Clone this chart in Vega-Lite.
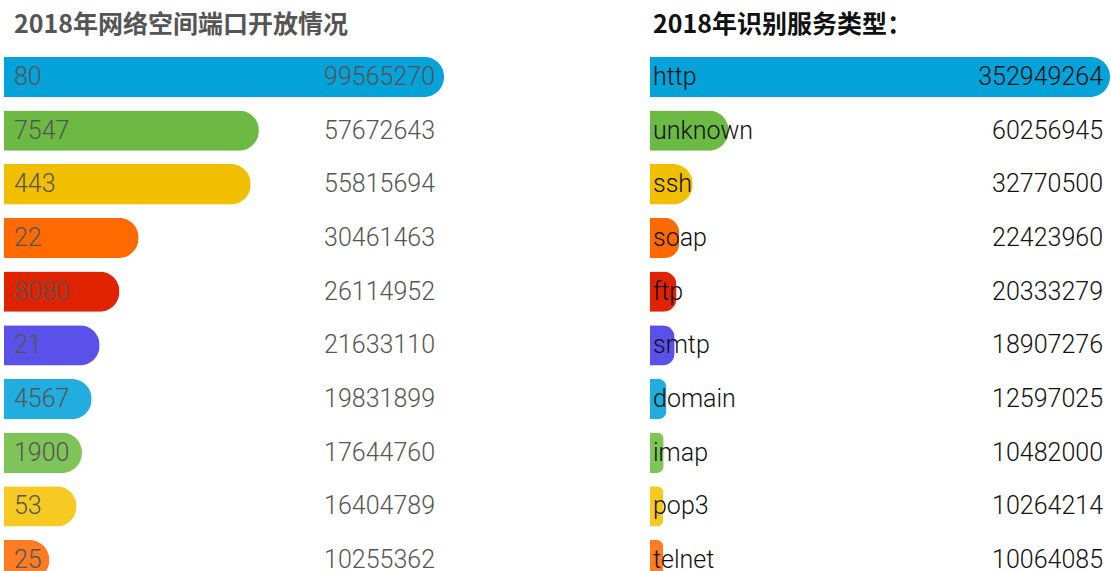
{
  "$schema": "https://vega.github.io/schema/vega-lite/v6.json",
  "padding": {"left": 4, "right": 1, "top": 13, "bottom": 0},
  "background": "white",
  "spacing": 206,
  "config": {"view": {"stroke": null}, "font": "Roboto"},
  "resolve": {"scale": {"color": "shared"}},
  "hconcat": [
    {
      "title": {"text": "2018年网络空间端口开放情况", "anchor": "start", "dx": 10, "fontSize": 25, "fontWeight": "bold", "color": "#555555", "font": "Noto Sans CJK SC", "offset": 12},
      "width": 440,
      "height": 537,
      "data": {"values": [
        {"label": "80", "value": 99565270, "rank": 1},
        {"label": "7547", "value": 57672643, "rank": 2},
        {"label": "443", "value": 55815694, "rank": 3},
        {"label": "22", "value": 30461463, "rank": 4},
        {"label": "8080", "value": 26114952, "rank": 5},
        {"label": "21", "value": 21633110, "rank": 6},
        {"label": "4567", "value": 19831899, "rank": 7},
        {"label": "1900", "value": 17644760, "rank": 8},
        {"label": "53", "value": 16404789, "rank": 9},
        {"label": "25", "value": 10255362, "rank": 10}
      ]},
      "transform": [{"joinaggregate": [{"op": "max", "field": "value", "as": "vmax"}]}],
      "encoding": {
        "y": {"field": "label", "type": "nominal", "sort": {"field": "rank", "op": "min"}, "axis": null, "scale": {"paddingInner": 0.25, "paddingOuter": 0.125}}
      },
      "layer": [
        {
          "mark": {"type": "bar", "cornerRadiusEnd": 20},
          "encoding": {
            "x": {"field": "value", "type": "quantitative", "axis": null, "scale": {"nice": false, "zero": true}},
            "color": {"field": "rank", "type": "ordinal", "legend": null, "scale": {"domain": [1,2,3,4,5,6,7,8,9,10], "range": ["#03a2d8", "#6cb944", "#f2bf00", "#ff6a00", "#df2200", "#5a50ea", "#22addf", "#7ec459", "#f7ca23", "#fe7c22"]}}
          }
        },
        {
          "mark": {"type": "text", "align": "left", "dx": 10, "fontSize": 25, "fontWeight": 300, "color": "#555555"},
          "encoding": {"x": {"datum": 0, "type": "quantitative"}, "text": {"field": "label"}}
        },
        {
          "mark": {"type": "text", "align": "right", "dx": -9, "fontSize": 25, "fontWeight": 300, "color": "#555555"},
          "encoding": {"x": {"field": "vmax", "type": "quantitative"}, "text": {"field": "value", "type": "quantitative", "format": "d"}}
        }
      ]
    },
    {
      "title": {"text": "2018年识别服务类型：", "anchor": "start", "dx": 3, "fontSize": 25, "fontWeight": "bold", "color": "#111111", "font": "Noto Sans CJK SC", "offset": 12},
      "width": 460,
      "height": 537,
      "data": {"values": [
        {"label": "http", "value": 352949264, "rank": 1},
        {"label": "unknown", "value": 60256945, "rank": 2},
        {"label": "ssh", "value": 32770500, "rank": 3},
        {"label": "soap", "value": 22423960, "rank": 4},
        {"label": "ftp", "value": 20333279, "rank": 5},
        {"label": "smtp", "value": 18907276, "rank": 6},
        {"label": "domain", "value": 12597025, "rank": 7},
        {"label": "imap", "value": 10482000, "rank": 8},
        {"label": "pop3", "value": 10264214, "rank": 9},
        {"label": "telnet", "value": 10064085, "rank": 10}
      ]},
      "transform": [{"joinaggregate": [{"op": "max", "field": "value", "as": "vmax"}]}],
      "encoding": {
        "y": {"field": "label", "type": "nominal", "sort": {"field": "rank", "op": "min"}, "axis": null, "scale": {"paddingInner": 0.25, "paddingOuter": 0.125}}
      },
      "layer": [
        {
          "mark": {"type": "bar", "cornerRadiusEnd": 20},
          "encoding": {
            "x": {"field": "value", "type": "quantitative", "axis": null, "scale": {"nice": false, "zero": true}},
            "color": {"field": "rank", "type": "ordinal", "legend": null}
          }
        },
        {
          "mark": {"type": "text", "align": "left", "dx": 3, "fontSize": 25, "fontWeight": 300, "color": "#111111"},
          "encoding": {"x": {"datum": 0, "type": "quantitative"}, "text": {"field": "label"}}
        },
        {
          "mark": {"type": "text", "align": "right", "dx": -7, "fontSize": 25, "fontWeight": 300, "color": "#111111"},
          "encoding": {"x": {"field": "vmax", "type": "quantitative"}, "text": {"field": "value", "type": "quantitative", "format": "d"}}
        }
      ]
    }
  ]
}
